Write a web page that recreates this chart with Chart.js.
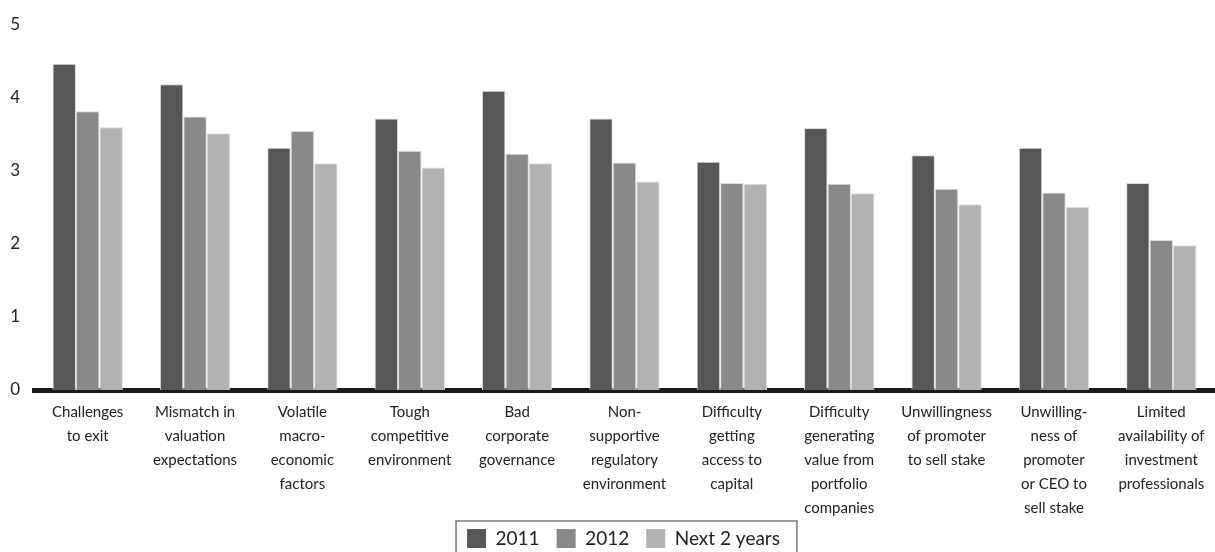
<!DOCTYPE html>
<html>
<head>
<meta charset="utf-8">
<script src="https://cdn.jsdelivr.net/npm/chart.js@4.4.1/dist/chart.umd.min.js"></script>
<style>
  html, body { margin: 0; padding: 0; background: #fff; }
  #wrap { width: 1215px; height: 552px; }
</style>
</head>
<body>
<div id="wrap"><canvas id="barras"></canvas></div>
<script>
var categorias = [
    ["Challenges", "to exit"],
    ["Mismatch in", "valuation", "expectations"],
    ["Volatile", "macro-", "economic", "factors"],
    ["Tough", "competitive", "environment"],
    ["Bad", "corporate", "governance"],
    ["Non-", "supportive", "regulatory", "environment"],
    ["Difficulty", "getting", "access to", "capital"],
    ["Difficulty", "generating", "value from", "portfolio", "companies"],
    ["Unwillingness", "of promoter", "to sell stake"],
    ["Unwilling-", "ness of", "promoter", "or CEO to", "sell stake"],
    ["Limited", "availability of", "investment", "professionals"]
];
var serie_2011 = [4.46, 4.18, 3.31, 3.71, 4.09, 3.71, 3.12, 3.58, 3.21, 3.31, 2.83];
var serie_2012 = [3.81, 3.74, 3.54, 3.27, 3.23, 3.11, 2.83, 2.82, 2.75, 2.70, 2.05];
var serie_next = [3.59, 3.51, 3.10, 3.04, 3.10, 2.85, 2.82, 2.69, 2.54, 2.50, 1.98];
var nombres = ["2011", "2012", "Next 2 years"];
var colores = ["#575756", "#898989", "#b1b2b3"];

var fuente = "'Lato', 'Liberation Sans', sans-serif";

// las etiquetas largas del eje x bajan hasta la leyenda: no recortarlas,
// y la leyenda va un poco a la derecha del centro
var ajuste_layout = {
    id: 'ajuste_layout',
    afterLayout: function(chart) {
        chart.scales.x.bottom = chart.height;
        chart.legend.left += 16;
        chart.legend.right += 16;
    }
};

// caja gris alrededor de la leyenda
var marco_leyenda = {
    id: 'marco_leyenda',
    afterDraw: function(chart) {
        var lg = chart.legend;
        if (!lg || !lg.legendHitBoxes || !lg.legendHitBoxes.length) return;
        var cajas = lg.legendHitBoxes;
        var x1 = cajas[0].left - 11;
        var last = cajas[cajas.length - 1];
        var x2 = last.left + last.width + 17;
        var y1 = cajas[0].top - 8;
        var ctx = chart.ctx;
        ctx.save();
        ctx.strokeStyle = "#777";
        ctx.lineWidth = 1.5;
        ctx.strokeRect(x1, y1, x2 - x1, 60);
        ctx.restore();
    }
};

function hacer_dataset(label, data, color) {
    return {
        label: label,
        data: data,
        backgroundColor: color,
        borderColor: "#dcdcdc",
        borderWidth: {top: 1, left: 1, right: 1, bottom: 0},
        borderSkipped: false
    };
}

var ctx = document.getElementById('barras').getContext('2d');
var myChart = new Chart(ctx, {
    type: 'bar',
    data: {
        labels: categorias,
        datasets: [
            hacer_dataset(nombres[0], serie_2011, colores[0]),
            hacer_dataset(nombres[1], serie_2012, colores[1]),
            hacer_dataset(nombres[2], serie_next, colores[2])
        ]
    },
    options: {
        responsive: true,
        maintainAspectRatio: false,
        animation: false,
        datasets: {
            bar: {
                categoryPercentage: 0.655,
                barPercentage: 1.0
            }
        },
        layout: {
            padding: { top: 15, right: 0, bottom: -6, left: 0 }
        },
        scales: {
            x: {
                grid: { display: false, drawTicks: false },
                border: { display: true, color: "#1a1a1a", width: 5 },
                ticks: {
                    color: "#222",
                    padding: 10,
                    maxRotation: 0,
                    autoSkip: false,
                    font: { family: fuente, size: 15, lineHeight: 1.6 }
                },
                afterFit: function(scale) { scale.height = 122; }
            },
            y: {
                min: 0,
                max: 5,
                grid: { display: false, drawTicks: false },
                border: { display: false },
                ticks: {
                    stepSize: 1,
                    color: "#222",
                    padding: 14,
                    font: { family: fuente, size: 17 }
                },
                afterFit: function(scale) { scale.width = 34; }
            }
        },
        plugins: {
            legend: {
                display: true,
                position: 'bottom',
                labels: {
                    boxWidth: 19,
                    boxHeight: 19,
                    padding: 17,
                    color: "#222",
                    font: { family: fuente, size: 19 },
                    generateLabels: function(chart) {
                        var items = Chart.defaults.plugins.legend.labels.generateLabels(chart);
                        items.forEach(function(it) { it.lineWidth = 0; });
                        return items;
                    }
                }
            },
            tooltip: { enabled: false },
            title: { display: false }
        }
    },
    plugins: [ajuste_layout, marco_leyenda]
});
</script>
</body>
</html>
